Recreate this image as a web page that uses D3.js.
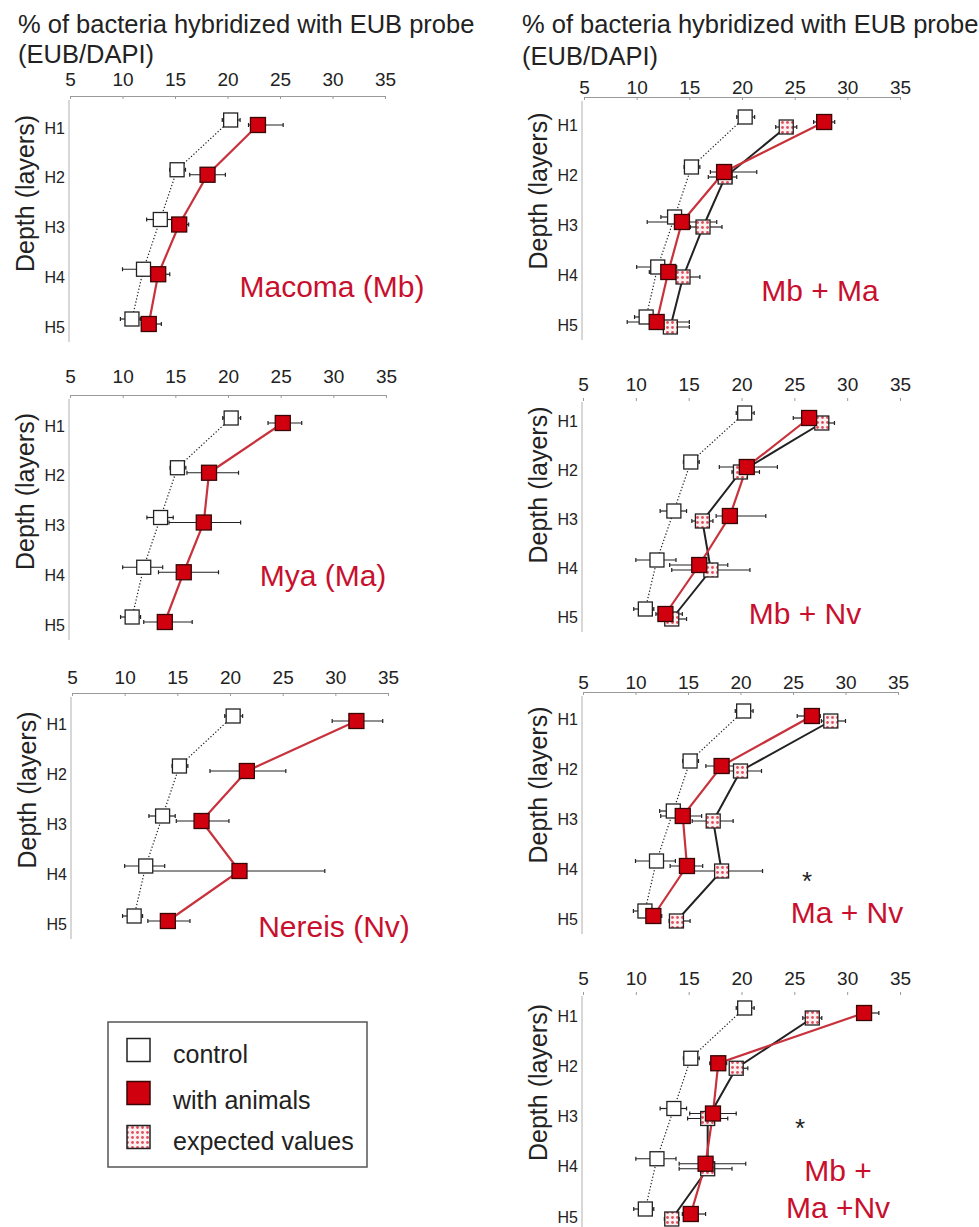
<!DOCTYPE html>
<html>
<head>
<meta charset="utf-8">
<script src="https://cdn.jsdelivr.net/npm/d3@7"></script>
<style>
  html, body { margin: 0; padding: 0; background: #fff; }
  svg { display: block; font-family: "Liberation Sans", Arial, Helvetica, sans-serif; }
</style>
</head>
<body>
<svg id="chart" width="979" height="1227"></svg>
<script>
// Depth layers and x-axis ticks
const layers = ["H1", "H2", "H3", "H4", "H5"];
const xTicks = [5, 10, 15, 20, 25, 30, 35];

// Control (no animals), shared by all panels
const control      = [20.3, 15.2, 13.6, 12.0, 10.9];
const controlErrLo = [0.8, 0.7, 1.3, 2.0, 1.1];
const controlErrHi = [0.9, 0.8, 1.2, 1.8, 0.8];

// Single species
const macoma      = [22.9, 18.1, 15.4, 13.4, 12.5];
const macomaErrLo = [0.9, 1.7, 0.7, 0.6, 0.7];
const macomaErrHi = [2.4, 1.7, 0.9, 1.1, 1.2];

const mya      = [25.2, 18.2, 17.7, 15.8, 14.0];
const myaErrLo = [1.4, 2.1, 3.3, 2.4, 2.0];
const myaErrHi = [1.8, 2.8, 3.5, 3.3, 2.6];

const nereis      = [32.0, 21.6, 17.3, 20.9, 14.1];
const nereisErrLo = [2.3, 3.5, 2.4, 8.8, 1.9];
const nereisErrHi = [2.5, 3.7, 2.6, 8.1, 2.1];

// Species combinations: measured and expected
const mbMa         = [27.8, 18.3, 14.3, 13.0, 11.9];
const mbMaErrLo    = [1.0, 1.3, 3.3, 1.8, 2.8];
const mbMaErrHi    = [1.0, 3.1, 3.3, 1.4, 3.1];
const mbMaExp      = [24.2, 18.4, 16.3, 14.4, 13.2];
const mbMaExpErrLo = [1.0, 1.6, 1.2, 0.8, 1.3];
const mbMaExpErrHi = [1.0, 1.1, 1.8, 1.6, 1.8];

const mbNv         = [26.4, 20.5, 18.9, 16.0, 12.8];
const mbNvErrLo    = [1.5, 2.6, 1.3, 2.8, 0.9];
const mbNvErrHi    = [1.0, 2.9, 3.4, 2.7, 1.6];
const mbNvExp      = [27.6, 19.9, 16.3, 17.1, 13.4];
const mbNvExpErrLo = [1.2, 0.8, 1.0, 3.7, 0.9];
const mbNvExpErrHi = [1.2, 1.8, 1.0, 3.7, 1.4];

const maNv         = [26.8, 18.2, 14.5, 14.9, 11.7];
const maNvErrLo    = [1.4, 1.5, 2.1, 1.6, 0.8];
const maNvErrHi    = [0.8, 1.7, 1.8, 1.5, 0.8];
const maNvExp      = [28.6, 20.0, 17.4, 18.2, 13.9];
const maNvExpErrLo = [0.9, 1.1, 2.0, 2.8, 0.7];
const maNvExpErrHi = [1.4, 2.0, 1.9, 3.9, 1.3];

const mbMaNv         = [31.6, 17.8, 17.3, 16.6, 15.2];
const mbMaNvErrLo    = [0.7, 0.8, 2.2, 2.5, 0.8];
const mbMaNvErrHi    = [1.4, 0.8, 2.2, 3.8, 1.4];
const mbMaNvExp      = [26.7, 19.5, 16.8, 16.8, 13.4];
const mbMaNvExpErrLo = [0.9, 0.6, 1.9, 2.7, 0.7];
const mbMaNvExpErrHi = [0.9, 1.1, 1.9, 2.3, 0.7];

// Text
const xTitle = ["% of bacteria hybridized with EUB probe", "(EUB/DAPI)"];
const yTitle = "Depth (layers)";
const legendLabels = ["control", "with animals", "expected values"];

// Styling
const RED_FILL = "#d0000f";
const RED_LINE = "#c8323c";
const LABEL_RED = "#c8102e";
const INK = "#222";

const svg = d3.select("#chart");

// Dotted fill for expected values
const defs = svg.append("defs");
const pat = defs.append("pattern")
  .attr("id", "dots").attr("patternUnits", "userSpaceOnUse")
  .attr("width", 5).attr("height", 5);
pat.append("rect").attr("width", 5).attr("height", 5).attr("fill", "#fdf0f0");
pat.append("circle").attr("cx", 2.5).attr("cy", 2.5).attr("r", 1.4).attr("fill", "#e0505e");

// Panel layouts
const panels = [
  { x: [70, 385], y: [125, 324], axisY: 96, tickY: 86, axisX: 69, showAxis: true,
    animals: [macoma, macomaErrLo, macomaErrHi], expected: null,
    label: ["Macoma (Mb)"], labelX: 332, labelY: [297], star: null },
  { x: [70, 386], y: [423, 622], axisY: 395, tickY: 383, axisX: 69, showAxis: true,
    animals: [mya, myaErrLo, myaErrHi], expected: null,
    label: ["Mya (Ma)"], labelX: 323, labelY: [586], star: null },
  { x: [72, 388], y: [721, 921], axisY: 693, tickY: 684, axisX: 71, showAxis: true,
    animals: [nereis, nereisErrLo, nereisErrHi], expected: null,
    label: ["Nereis (Nv)"], labelX: 334, labelY: [937], star: null },
  { x: [584, 900], y: [122, 322], axisY: 97, tickY: 94, axisX: 582, showAxis: true,
    animals: [mbMa, mbMaErrLo, mbMaErrHi], expected: [mbMaExp, mbMaExpErrLo, mbMaExpErrHi],
    label: ["Mb + Ma"], labelX: 820, labelY: [301], star: null },
  { x: [583, 900], y: [418, 614], axisY: 398, tickY: 391, axisX: 582, showAxis: false,
    animals: [mbNv, mbNvErrLo, mbNvErrHi], expected: [mbNvExp, mbNvExpErrLo, mbNvExpErrHi],
    label: ["Mb + Nv"], labelX: 805, labelY: [624], star: null },
  { x: [583, 898], y: [716, 916], axisY: 692, tickY: 689, axisX: 582, showAxis: true,
    animals: [maNv, maNvErrLo, maNvErrHi], expected: [maNvExp, maNvExpErrLo, maNvExpErrHi],
    label: ["Ma + Nv"], labelX: 847, labelY: [923], star: [807, 890] },
  { x: [583, 900], y: [1013, 1214], axisY: 992, tickY: 985, axisX: 582, showAxis: false,
    animals: [mbMaNv, mbMaNvErrLo, mbMaNvErrHi], expected: [mbMaNvExp, mbMaNvExpErrLo, mbMaNvExpErrHi],
    label: ["Mb +", "Ma +Nv"], labelX: 838, labelY: [1181, 1218], star: [800, 1137] }
];

// Offsets of each series within a depth layer
const OFF_CONTROL = -5, OFF_ANIMAL = 0, OFF_EXPECTED = 5;

function drawPanel(p) {
  const g = svg.append("g");
  const x = d3.scaleLinear().domain([5, 35]).range(p.x);
  const y = d3.scalePoint().domain(layers).range(p.y);

  // Top value axis
  const axis = d3.axisTop(x).tickValues(xTicks).tickSize(-3).tickPadding(p.axisY - p.tickY);
  const ag = g.append("g").attr("transform", `translate(0,${p.axisY})`).call(axis);
  ag.select(".domain").attr("stroke", p.showAxis ? "#9a9a9a" : "none").attr("stroke-width", 1);
  ag.selectAll(".tick line").attr("stroke", "#9a9a9a");
  ag.selectAll(".tick text").attr("fill", INK).attr("font-size", 19)
    .attr("font-family", "'Liberation Sans', Arial, sans-serif");

  // Vertical depth axis line
  g.append("line")
    .attr("x1", p.axisX).attr("x2", p.axisX)
    .attr("y1", p.axisY + 4).attr("y2", y("H5") + 18)
    .attr("stroke", "#b0b0b0").attr("stroke-width", 1);

  // Layer labels
  g.selectAll(".layer").data(layers).join("text")
    .attr("x", p.axisX - 4).attr("y", d => y(d) + 3)
    .attr("text-anchor", "end").attr("dominant-baseline", "central")
    .attr("font-size", 16).attr("fill", INK).text(d => d);

  // Depth title
  const mid = (y("H1") + y("H5")) / 2 - 31;
  g.append("text")
    .attr("transform", `translate(${p.axisX - 35},${mid}) rotate(-90)`)
    .attr("text-anchor", "middle").attr("font-size", 25).attr("fill", INK)
    .text(yTitle);

  const series = (vals, lo, hi, off) => vals.map((v, i) => ({
    v, lo: v - lo[i], hi: v + hi[i], py: y(layers[i]) + off
  }));

  const ctrl = series(control, controlErrLo, controlErrHi, OFF_CONTROL);
  const anim = series(p.animals[0], p.animals[1], p.animals[2], OFF_ANIMAL);
  const exp = p.expected ? series(p.expected[0], p.expected[1], p.expected[2], OFF_EXPECTED) : null;

  const line = d3.line().x(d => x(d.v)).y(d => d.py);

  g.append("path").attr("d", line(ctrl)).attr("fill", "none")
    .attr("stroke", INK).attr("stroke-width", 1.2).attr("stroke-dasharray", "1.3,2");
  if (exp) g.append("path").attr("d", line(exp)).attr("fill", "none")
    .attr("stroke", INK).attr("stroke-width", 2);
  g.append("path").attr("d", line(anim)).attr("fill", "none")
    .attr("stroke", RED_LINE).attr("stroke-width", 2.2);

  // Error bars
  const errs = ctrl.concat(anim, exp || []);
  const eb = g.append("g").attr("stroke", INK).attr("stroke-width", 1.2);
  eb.selectAll("line.bar").data(errs).join("line")
    .attr("x1", d => x(d.lo)).attr("x2", d => x(d.hi))
    .attr("y1", d => d.py).attr("y2", d => d.py);
  eb.selectAll("line.capL").data(errs).join("line")
    .attr("x1", d => x(d.lo)).attr("x2", d => x(d.lo))
    .attr("y1", d => d.py - 2).attr("y2", d => d.py + 2);
  eb.selectAll("line.capR").data(errs).join("line")
    .attr("x1", d => x(d.hi)).attr("x2", d => x(d.hi))
    .attr("y1", d => d.py - 2).attr("y2", d => d.py + 2);

  // Markers
  const sq = (sel, data, size, fill, stroke) => sel.selectAll(null).data(data).join("rect")
    .attr("x", d => x(d.v) - size / 2).attr("y", d => d.py - size / 2)
    .attr("width", size).attr("height", size)
    .attr("fill", fill).attr("stroke", stroke).attr("stroke-width", 1.3);
  sq(g.append("g"), ctrl, 14, "#fff", INK);
  if (exp) sq(g.append("g"), exp, 14, "url(#dots)", INK);
  sq(g.append("g"), anim, 15, RED_FILL, "#3a0505");

  // Panel name
  p.label.forEach((t, i) => g.append("text")
    .attr("x", p.labelX).attr("y", p.labelY[i]).attr("text-anchor", "middle")
    .attr("font-size", 30).attr("fill", LABEL_RED).text(t));

  if (p.star) g.append("text").attr("x", p.star[0]).attr("y", p.star[1])
    .attr("text-anchor", "middle").attr("font-size", 26).attr("fill", INK).text("*");
}

panels.forEach(drawPanel);

// Column titles
[[18, 33, 63], [522, 33, 65]].forEach(([tx, y1, y2]) => {
  svg.append("text").attr("x", tx).attr("y", y1).attr("font-size", 25.5).attr("fill", INK).text(xTitle[0]);
  svg.append("text").attr("x", tx).attr("y", y2).attr("font-size", 25.5).attr("fill", INK).text(xTitle[1]);
});

// Legend
const lg = svg.append("g");
lg.append("rect").attr("x", 108).attr("y", 1022).attr("width", 259).attr("height", 145)
  .attr("fill", "#fff").attr("stroke", "#555").attr("stroke-width", 1.5);
const legendFills = ["#fff", RED_FILL, "url(#dots)"];
const legendRows = [1050, 1093, 1137];
const legendBase = [1063, 1109, 1150];
legendLabels.forEach((t, i) => {
  lg.append("rect").attr("x", 127).attr("y", legendRows[i] - 11.5).attr("width", 23).attr("height", 23)
    .attr("fill", legendFills[i]).attr("stroke", i === 1 ? "#3a0505" : INK).attr("stroke-width", 1.5);
  lg.append("text").attr("x", 173).attr("y", legendBase[i]).attr("font-size", 25).attr("fill", INK).text(t);
});
</script>
</body>
</html>
